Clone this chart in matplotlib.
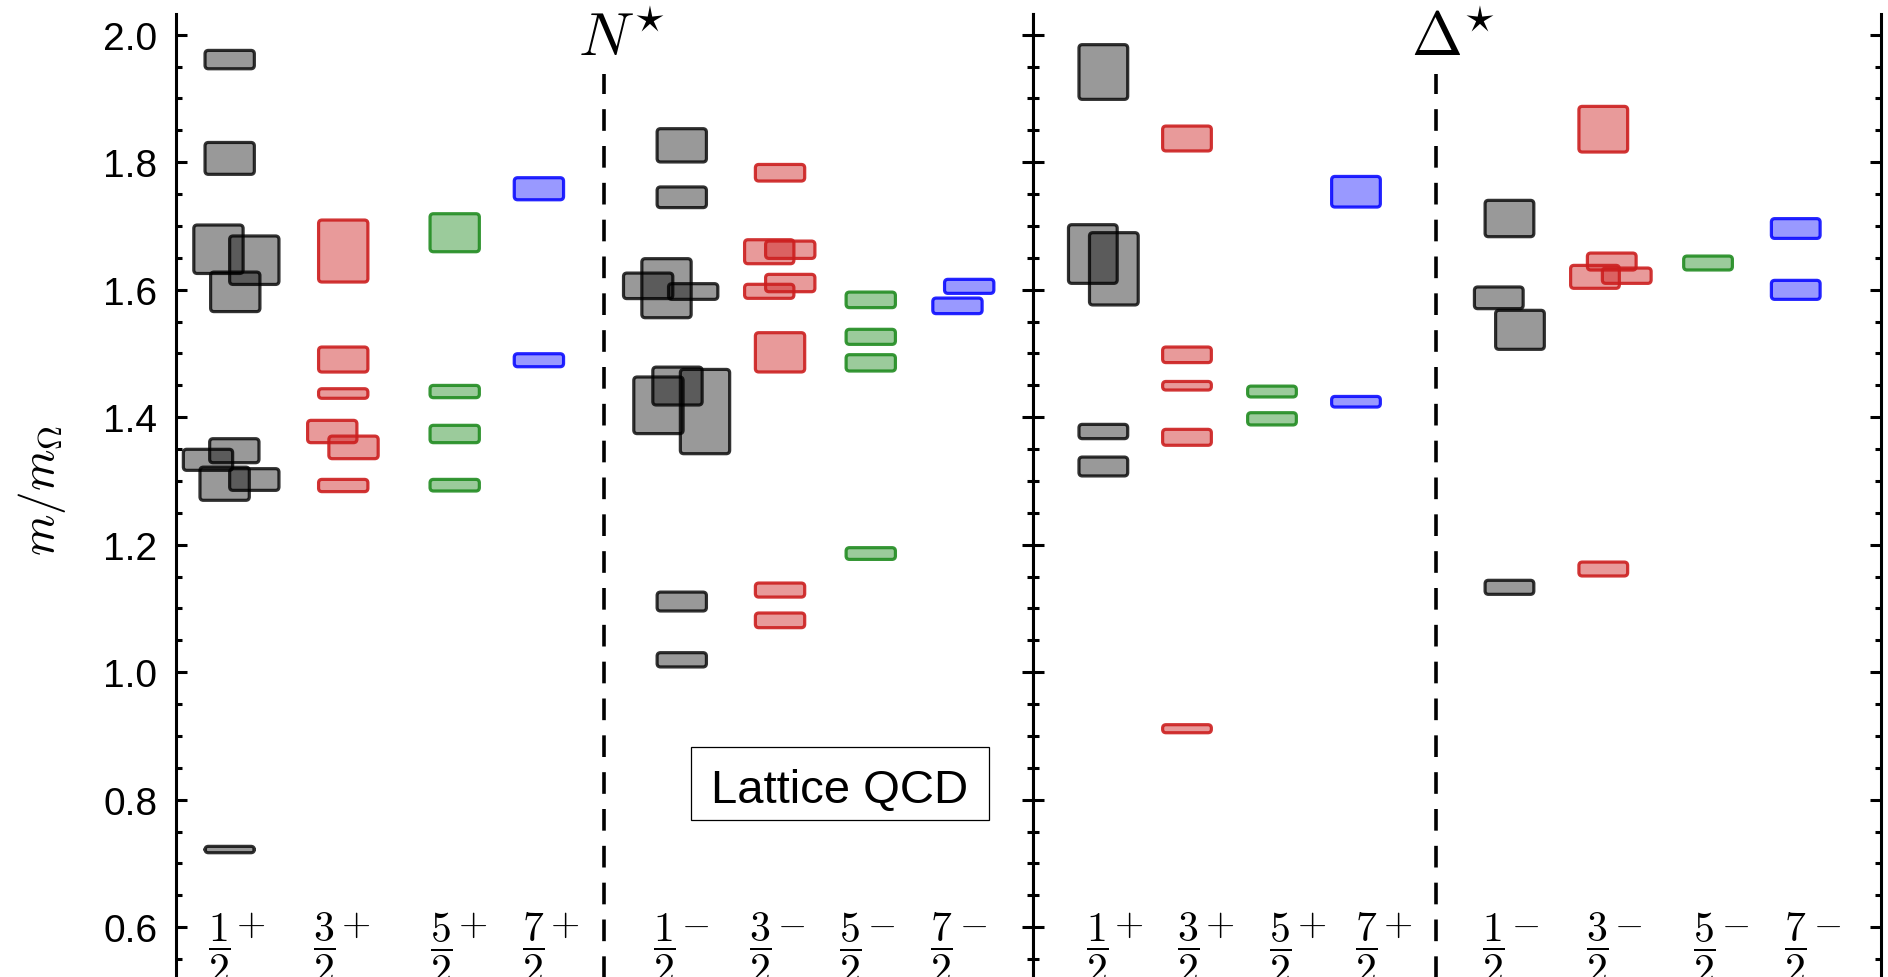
import matplotlib
matplotlib.use("Agg")
import matplotlib.pyplot as plt
from matplotlib.patches import FancyBboxPatch, Rectangle
from matplotlib.ticker import FixedLocator, MultipleLocator

plt.rcParams["font.family"] = ["Liberation Sans", "DejaVu Sans"]
plt.rcParams["mathtext.fontset"] = "cm"

# ---------------------------------------------------------------------------
# Quantum-number labels
SPINS = [r"\dfrac{1}{2}", r"\dfrac{3}{2}", r"\dfrac{5}{2}", r"\dfrac{7}{2}"]
PARITIES = ["+", "-"]
Y_TICKS = [0.6, 0.8, 1.0, 1.2, 1.4, 1.6, 1.8, 2.0]
Y_TICK_LABELS = ["0.6", "0.8", "1.0", "1.2", "1.4", "1.6", "1.8", "2.0"]

# N* spectrum: channel index (0-3: J=1/2..7/2 with P=+, 4-7: P=-),
# mass in units of m_Omega and its uncertainty
N_CHANNEL = [0] * 10 + [1] * 6 + [2] * 4 + [3] * 2 + [4] * 10 + [5] * 8 + [6] * 4 + [7] * 2
N_MASS = [1.961, 1.806, 1.6635, 1.6463, 1.5967, 1.3475, 1.3332, 1.2957, 1.3023, 0.7219,
          1.6607, 1.4905, 1.4372, 1.3776, 1.3527, 1.2929,
          1.6894, 1.4403, 1.3737, 1.2934,
          1.7584, 1.4894,
          1.8265, 1.745, 1.6024, 1.6061, 1.5972, 1.4489, 1.4187, 1.4089, 1.1109, 1.0195,
          1.7835, 1.6596, 1.6627, 1.6105, 1.5975, 1.5018, 1.1289, 1.0814,
          1.5841, 1.5261, 1.4853, 1.1862,
          1.6053, 1.5747]
N_ERR = [0.0144, 0.025, 0.038, 0.038, 0.031, 0.0188, 0.0165, 0.026, 0.017, 0.005,
         0.0486, 0.0196, 0.0075, 0.0175, 0.0177, 0.0096,
         0.0298, 0.0096, 0.0136, 0.0091,
         0.0173, 0.0102,
         0.0261, 0.0162, 0.0463, 0.020, 0.0123, 0.0297, 0.0444, 0.0661, 0.0148, 0.0112,
         0.013, 0.0188, 0.0136, 0.0136, 0.011, 0.0308, 0.011, 0.0115,
         0.0122, 0.0118, 0.0128, 0.0092,
         0.011, 0.0122]

# Delta* spectrum
D_CHANNEL = [0] * 5 + [1] * 5 + [2] * 2 + [3] * 2 + [4] * 4 + [5] * 5 + [6] * 1 + [7] * 2
D_MASS = [1.9415, 1.656, 1.6328, 1.3776, 1.3227,
          1.8372, 1.4979, 1.4494, 1.3685, 0.9114,
          1.4403, 1.3975,
          1.7537, 1.4243,
          1.7117, 1.5873, 1.5371, 1.1332,
          1.8518, 1.6442, 1.6202, 1.622, 1.1619,
          1.6419,
          1.696, 1.5998]
D_ERR = [0.0429, 0.046, 0.0567, 0.0112, 0.0148,
         0.0195, 0.0122, 0.0067, 0.0125, 0.0063,
         0.0085, 0.0096,
         0.024, 0.0083,
         0.0285, 0.017, 0.0306, 0.011,
         0.0358, 0.0133, 0.018, 0.012, 0.0109,
         0.0109,
         0.0155, 0.0149]

# ---------------------------------------------------------------------------
# Layout: channel columns, sideways nudges to separate overlapping levels
N_COLUMN_X = [0.632, 1.956, 3.256, 4.238, 5.904, 7.050, 8.108, 9.187]
D_COLUMN_X = [0.830, 1.817, 2.820, 3.811, 5.622, 6.729, 7.965, 9.000]
N_NUDGE = [0, 0, -0.131, 0.287, 0.065, 0.054, -0.253, -0.059, 0.287, 0,
           0, 0, 0, -0.128, 0.120, 0,
           0, 0, 0, 0,
           0, 0,
           0, 0, -0.178, -0.392, 0.133, -0.050, -0.272, 0.271, 0, 0,
           0, -0.126, 0.119, 0.119, -0.126, 0, 0, 0,
           0, 0, 0, 0,
           0.069, -0.068]
D_NUDGE = [0, -0.124, 0.124, 0, 0,
           0, 0, 0, 0, 0,
           0, 0,
           0, 0,
           0, -0.126, 0.124, 0,
           0, 0.100, -0.098, 0.277, 0,
           0,
           0, 0]
N_LABEL_X = [0.703, 1.928, 3.289, 4.358, 5.883, 7.009, 8.052, 9.120]
D_LABEL_X = [0.947, 2.026, 3.107, 4.120, 5.625, 6.844, 8.106, 9.188]
N_DIVIDER = 5.0
D_DIVIDER = 4.761

FILL = [(0, 0, 0, 0.40), (0.80, 0.12, 0.12, 0.45), (0.13, 0.55, 0.13, 0.45), (0, 0, 1, 0.40)]
EDGE = [(0, 0, 0, 0.80), (0.80, 0.12, 0.12, 0.90), (0.13, 0.55, 0.13, 0.90), (0, 0, 1, 0.85)]
BOX_WIDTH = 0.575

W, H, DPI = 1888, 978, 100
fig = plt.figure(figsize=(W / DPI, H / DPI), dpi=DPI)

YMIN, YMAX = 0.5, 2.0325
top = 1 - 15 / H
bottom = 1 - 992 / H
ax_n = fig.add_axes([175.5 / W, bottom, (1033 - 175.5) / W, top - bottom])
ax_d = fig.add_axes([1033 / W, bottom, (1880.5 - 1033) / W, top - bottom])


def style_axes(ax, show_labels):
    ax.set_xlim(0, 10)
    ax.set_ylim(YMIN, YMAX)
    ax.set_xticks([])
    for side in ("top", "bottom"):
        ax.spines[side].set_visible(False)
    for side in ("left", "right"):
        ax.spines[side].set_linewidth(2.2)
    ax.yaxis.set_major_locator(FixedLocator(Y_TICKS))
    ax.yaxis.set_minor_locator(MultipleLocator(0.05))
    ax.tick_params(axis="y", which="both", direction="in", left=True, right=True,
                   width=2.2, labelleft=show_labels, labelright=False)
    ax.tick_params(axis="y", which="major", length=8, pad=13, labelsize=28)
    ax.tick_params(axis="y", which="minor", length=4.6)
    if show_labels:
        ax.set_yticklabels(Y_TICK_LABELS)


def draw_levels(ax, channels, masses, errors, nudges, column_x):
    px_x = ax.bbox.width / 10.0
    px_y = ax.bbox.height / (YMAX - YMIN)
    aspect = px_x / px_y
    for ch, m, e, dx in zip(channels, masses, errors, nudges):
        x0 = column_x[ch] + dx - BOX_WIDTH / 2
        patch = FancyBboxPatch((x0, m - e), BOX_WIDTH, 2 * e,
                               boxstyle="round,pad=0,rounding_size=0.04",
                               mutation_aspect=aspect,
                               facecolor=FILL[ch % 4], edgecolor=EDGE[ch % 4],
                               linewidth=2.3, joinstyle="round")
        ax.add_patch(patch)


def draw_labels(ax, label_x, divider, title, title_x):
    unit = ax.bbox.width / 10.0
    for i, x in enumerate(label_x):
        # fraction on the left, parity sign raised to the numerator on the right
        ax.text(x - 16 / unit, 0.5688, r"$%s$" % SPINS[i % 4],
                ha="center", va="center", fontsize=30)
        ax.text(x + 15 / unit, 0.605, r"$%s$" % PARITIES[i // 4],
                ha="center", va="center", fontsize=27)
    ax.plot([divider, divider], [YMIN, 1.938], color="black", lw=2.6,
            dashes=(6, 4.2), solid_capstyle="butt", dash_capstyle="butt")
    ax.text(title_x, 1.968, title, ha="left", va="baseline", fontsize=44, clip_on=False)


style_axes(ax_n, True)
style_axes(ax_d, False)
draw_levels(ax_n, N_CHANNEL, N_MASS, N_ERR, N_NUDGE, N_COLUMN_X)
draw_levels(ax_d, D_CHANNEL, D_MASS, D_ERR, D_NUDGE, D_COLUMN_X)
draw_labels(ax_n, N_LABEL_X, N_DIVIDER, r"$N^{\star}$", 4.694)
draw_labels(ax_d, D_LABEL_X, D_DIVIDER, r"$\Delta^{\star}$", 4.457)

# framed caption
ax_n.add_patch(Rectangle((6.008, 0.7682), 9.490 - 6.008, 0.8822 - 0.7682,
                         facecolor="white", edgecolor="black", linewidth=0.9, zorder=3))
ax_n.text(7.749, 0.7968, "Lattice QCD", ha="center", va="baseline", fontsize=34, zorder=4)

fig.text(42 / W, 1 - 491 / H, r"$m/m_\Omega$", rotation=90, ha="center", va="center",
         fontsize=34)

fig.savefig("out.png", dpi=DPI)
